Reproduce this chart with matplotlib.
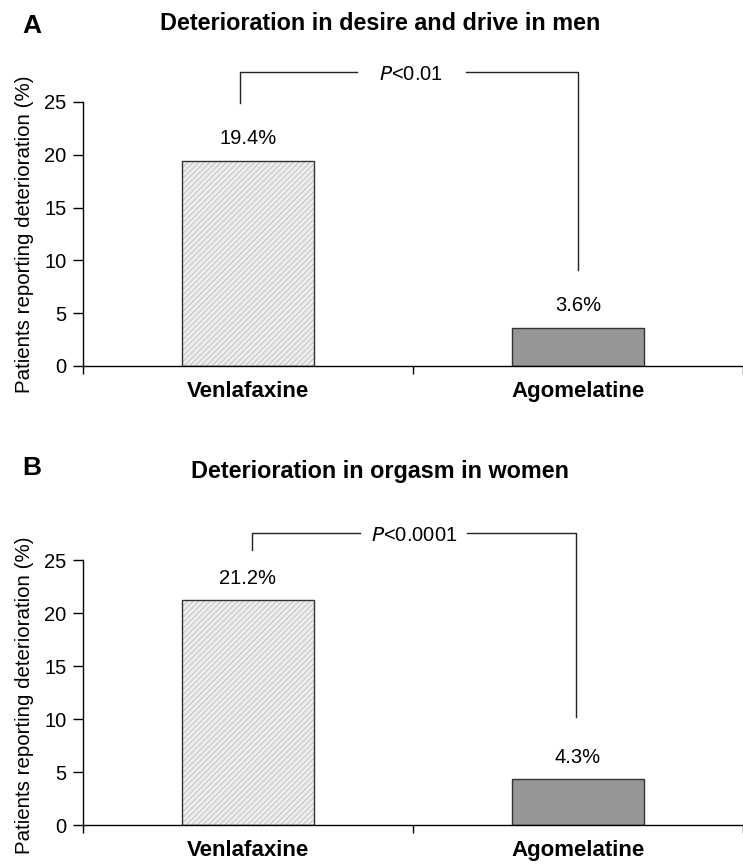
import matplotlib
matplotlib.use("Agg")
import matplotlib.pyplot as plt

plt.rcParams['font.family'] = ['Liberation Sans', 'DejaVu Sans']

categories = ["Venlafaxine", "Agomelatine"]
panel_letters = ["A", "B"]
titles = ["Deterioration in desire and drive in men", "Deterioration in orgasm in women"]
values_A = [19.4, 3.6]
values_B = [21.2, 4.3]
p_labels = ["<0.01", "<0.0001"]
yticks = [0, 5, 10, 15, 20, 25]
ylabel = "Patients reporting deterioration (%)"
# bracket: [left bottom, top, right bottom] in data units
brackets = [[24.9, 27.8, 9.1], [25.9, 27.5, 10.2]]

fig = plt.figure(figsize=(7.43, 8.65), dpi=100)
axes_pos = [[0.1117, 0.5769, 0.8883, 0.3052], [0.1117, 0.0462, 0.8883, 0.3064]]
title_y = [0.9725, 0.4545]
letter_y = [0.970, 0.459]
bracket_x = [[0.476, 0.83, 1.16, 1.50], [0.512, 0.84, 1.165, 1.494]]
ylabel_y = [0.5, 0.49]

for i, vals in enumerate([values_A, values_B]):
    ax = fig.add_axes(axes_pos[i])
    xs = [0.5, 1.5]
    ax.bar(xs, vals, width=0.4, color="#efefef", edgecolor="#cccccc", hatch="//////", linewidth=0)
    ax.bar(xs[1], vals[1], width=0.4, color="#969696", linewidth=0)
    ax.bar(xs, vals, width=0.4, fill=False, edgecolor="#333333", linewidth=1.0)
    ax.set_xlim(0, 2)
    ax.set_ylim(0, 25)
    ax.set_yticks(yticks)
    ax.set_xticks([0, 1, 2])
    ax.set_xticklabels([])
    ax.set_xticks(xs, minor=True)
    ax.set_xticklabels(categories, minor=True, fontsize=16, fontweight="bold")
    ax.tick_params(axis="x", which="minor", length=0, pad=11)
    ax.tick_params(axis="x", which="major", length=6, width=1, direction="out")
    ax.tick_params(axis="y", length=7, width=1, labelsize=14.5, pad=5)
    for s in ["top", "right"]:
        ax.spines[s].set_visible(False)
    for s in ["left", "bottom"]:
        ax.spines[s].set_linewidth(1.0)
    ax.set_ylabel(ylabel, fontsize=14.8)
    ax.yaxis.set_label_coords(-0.074, ylabel_y[i])
    for x, v in zip(xs, vals):
        ax.text(x, v + 2.1, f"{v}%", ha="center", va="center", fontsize=14.5)
    lb, top, rb = brackets[i]
    bx = bracket_x[i]
    kw = dict(color="#222222", lw=1.0, clip_on=False)
    ax.plot([bx[0], bx[0], bx[1]], [lb, top, top], **kw)
    ax.plot([bx[2], bx[3], bx[3]], [top, top, rb], **kw)
    ax.text((bx[1] + bx[2]) / 2, top - 0.2, "$P$" + p_labels[i], ha="center", va="center", fontsize=14.5)
    fig.text(0.512, title_y[i], titles[i], ha="center", va="center", fontsize=16.8, fontweight="bold")
    fig.text(0.03, letter_y[i], panel_letters[i], ha="left", va="center", fontsize=19, fontweight="bold")

fig.savefig("out.png", dpi=100)
